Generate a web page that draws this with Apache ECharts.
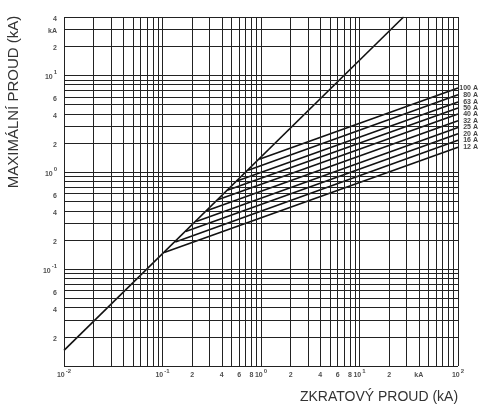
<!DOCTYPE html>
<html>
<head>
<meta charset="utf-8">
<script src="https://cdn.jsdelivr.net/npm/echarts@6/dist/echarts.min.js"></script>
<style>
  html, body { margin: 0; padding: 0; background: #fff; }
  #chart { width: 480px; height: 410px; }
</style>
</head>
<body>
<div id="chart"></div>
<script>
// osa x: zkratovy proud (kA), osa y: maximalni proud (kA), obe logaritmicke
var xTickValues = [0.01, 0.1, 0.2, 0.4, 0.6, 0.8, 1, 2, 4, 6, 8, 10, 20, 40, 100];
var xTickLabels = ['10^-2', '10^-1', '2', '4', '6', '8', '10^0', '2', '4', '6', '8', '10^1', '2', 'kA', '10^2'];
var yTickValues = [0.02, 0.04, 0.06, 0.1, 0.2, 0.4, 0.6, 1, 2, 4, 6, 10, 20, 30, 40];
var yTickLabels = ['2', '4', '6', '10^-1', '2', '4', '6', '10^0', '2', '4', '6', '10^1', '2', 'kA', '4'];

// primka nejvyssiho proudu (bez omezeni)
var peakX = [0.01, 28];
var peakY = [0.0145, 40];

// omezene proudy pro jednotlive jmenovite proudy
var ratings = ['100 A', '80 A', '63 A', '50 A', '40 A', '32 A', '25 A', '20 A', '16 A', '12 A'];
var startX = [0.96, 0.74, 0.57, 0.455, 0.364, 0.28, 0.22, 0.172, 0.135, 0.104];
var startY = [1.36, 1.05, 0.81, 0.65, 0.52, 0.40, 0.31, 0.245, 0.19, 0.148];
var endX = 100;
var endY = [7.4, 6.3, 5.3, 4.6, 4.0, 3.4, 2.9, 2.5, 2.14, 1.81];

var xMin = 0.01, xMax = 100, yMin = 0.01, yMax = 40;

// mrizka 1..9 v kazde dekade
function gridValues(lo, hi) {
    var out = [];
    for (var d = lo; d < hi * 1.0001; d *= 10) {
        for (var m = 1; m <= 9; m++) {
            var v = +(d * m).toPrecision(6);
            if (v >= lo * 0.9999 && v <= hi * 1.0001) out.push(v);
        }
    }
    return out;
}
var xGrid = gridValues(xMin, xMax);
var yGrid = gridValues(yMin, yMax);

// "10^-1" -> rich text s exponentem
function tickText(s) {
    var p = s.split('^');
    if (p.length < 2) return '{n|' + s + '}';
    return '{n|' + p[0] + '}{e|' + p[1] + '}';
}

var myChart = echarts.init(document.getElementById('chart'), null, { renderer: 'canvas' });

var markData = [];
xGrid.forEach(function (v) { markData.push({ xAxis: v }); });
yGrid.forEach(function (v) { markData.push({ yAxis: v }); });

var tickRich = {
    n: { fontFamily: 'Liberation Sans', fontSize: 7, fontWeight: 'bold', color: '#222', lineHeight: 11, verticalAlign: 'bottom' },
    e: { fontFamily: 'Liberation Sans', fontSize: 6, fontWeight: 'bold', color: '#222', lineHeight: 11, verticalAlign: 'top', padding: [0, 0, 0, 1] }
};

var series = [];
series.push({
    type: 'line',
    data: [],
    silent: true,
    markLine: {
        silent: true,
        symbol: 'none',
        animation: false,
        label: { show: false },
        lineStyle: { color: '#222', width: 1, type: 'solid' },
        emphasis: { disabled: true },
        data: markData
    }
});

series.push({
    type: 'line',
    data: peakX.map(function (x, i) { return [x, peakY[i]]; }),
    showSymbol: false,
    lineStyle: { color: '#111', width: 1.6 },
    animation: false
});

ratings.forEach(function (r, i) {
    series.push({
        type: 'line',
        name: r,
        data: [[startX[i], startY[i]], [endX, endY[i]]],
        showSymbol: false,
        lineStyle: { color: '#111', width: 1.6 },
        animation: false
    });
});

// popisky jmenovitych proudu vpravo
series.push({
    type: 'scatter',
    symbolSize: 0,
    clip: false,
    animation: false,
    data: ratings.map(function (r, i) { return { value: [endX, endY[i]], name: r }; }),
    label: {
        show: true,
        position: 'inside',
        align: 'right',
        offset: [20, 0],
        formatter: '{b}',
        fontFamily: 'Liberation Sans', fontSize: 7, fontWeight: 'bold', color: '#111'
    }
});

// popisky os
series.push({
    type: 'scatter',
    symbolSize: 0,
    clip: false,
    animation: false,
    data: xTickValues.map(function (v, i) { return { value: [v, yMin], name: xTickLabels[i] }; }),
    label: {
        show: true, position: 'bottom', distance: 2,
        formatter: function (p) { return tickText(p.name); },
        rich: tickRich
    }
});
series.push({
    type: 'scatter',
    symbolSize: 0,
    clip: false,
    animation: false,
    data: yTickValues.map(function (v, i) { return { value: [xMin, v], name: yTickLabels[i] }; }),
    label: {
        show: true, position: 'left', distance: 7,
        formatter: function (p) { return tickText(p.name); },
        rich: tickRich
    }
});

var option = {
    backgroundColor: '#fff',
    animation: false,
    grid: { left: 64, right: 22, top: 17, bottom: 44 },
    xAxis: {
        type: 'log', logBase: 10, min: xMin, max: xMax,
        axisLine: { show: false }, axisTick: { show: false },
        axisLabel: { show: false }, splitLine: { show: false }
    },
    yAxis: {
        type: 'log', logBase: 10, min: yMin, max: yMax,
        axisLine: { show: false }, axisTick: { show: false },
        axisLabel: { show: false }, splitLine: { show: false }
    },
    graphic: [
        {
            type: 'text', x: 14, y: 102, rotation: Math.PI / 2,
            style: {
                text: 'MAXIMÁLNÍ PROUD (kA)', fill: '#333',
                font: '15px "Liberation Sans"', align: 'center', verticalAlign: 'middle'
            }
        },
        {
            type: 'text', x: 379, y: 397,
            style: {
                text: 'ZKRATOVÝ PROUD (kA)', fill: '#333',
                font: '14px "Liberation Sans"', align: 'center', verticalAlign: 'middle'
            }
        }
    ],
    series: series
};

myChart.setOption(option);
</script>
</body>
</html>
